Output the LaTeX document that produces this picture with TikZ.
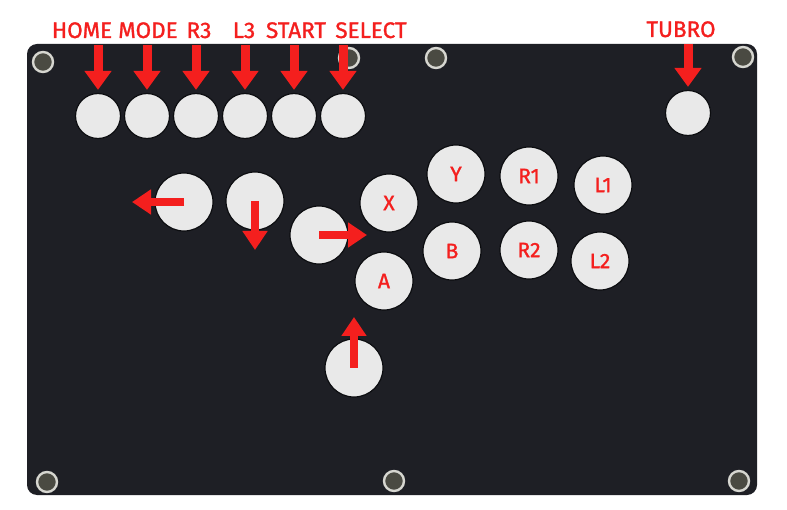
\documentclass[tikz,border=0pt]{standalone}
\usepackage{fontspec}
\setsansfont{Fira Sans}
\newfontfamily\padfont[FakeBold=1.2]{Fira Sans}
\usepackage{tikz}
\usetikzlibrary{arrows.meta,positioning}
\definecolor{PadInk}{HTML}{1E1F25}
\definecolor{PadRed}{HTML}{F41F1E}
\definecolor{PadKey}{HTML}{E9E9E9}
\definecolor{PadRim}{HTML}{0C0D10}
\definecolor{PadScrew}{HTML}{4A4A42}
\definecolor{PadSilver}{HTML}{D6D6D0}
\tikzset{
  padlabel/.style={font=\padfont\fontsize{22.5}{22.5}\selectfont, text=PadRed, inner sep=0pt, anchor=base},
  keybig/.style={circle, draw=PadRim, line width=1.2pt, fill=PadKey, minimum size=58pt, inner sep=0pt, font=\padfont\fontsize{21}{21}\selectfont, text=PadRed},
  keysmall/.style={keybig, minimum size=45pt},
  screwhead/.style={circle, draw=PadSilver, line width=2.4pt, fill=PadScrew, minimum size=20pt, inner sep=0pt},
  toparrow/.style={-{Triangle[length=19pt,width=26pt]}, line width=9pt, draw=PadRed, shorten <=7pt, shorten >=3pt},
  padarrow/.style={-{Triangle[length=19pt,width=24pt]}, line width=8pt, draw=PadRed}
}

\begin{document}
\begin{tikzpicture}[x=1pt, y=-1pt]
\useasboundingbox (0,0) rectangle (787,510);
\fill[white] (0,0) rectangle (787,510);
% board
\path[fill=PadInk, rounded corners=10pt] (27,44) rectangle (757,495);
\node[screwhead] (s1) at (43,62) {};
\node[screwhead] (s2) at (349,58) {};
\node[screwhead] (s3) at (436,58) {};
\node[screwhead] (s4) at (743,57) {};
\node[screwhead] (s5) at (47,482) {};
\node[screwhead] (s6) at (394,481) {};
\node[screwhead] (s7) at (739,481) {};
% top row
\node[keysmall] (bhome) at (98,116) {};
\node[keysmall] (bmode) at (147,116) {};
\node[keysmall] (br3) at (196,116) {};
\node[keysmall] (bl3) at (245,116) {};
\node[keysmall] (bstart) at (294,116) {};
\node[keysmall] (bselect) at (343,116) {};
\node[keysmall] (btubro) at (688,113) {};
\node[padlabel] (lhome) at (82,38) {HOME};
\node[padlabel] (lmode) at (148,38) {MODE};
\node[padlabel] (lr3) at (199,38) {R3};
\node[padlabel] (ll3) at (244,38) {L3};
\node[padlabel] (lstart) at (296,38) {START};
\node[padlabel] (lselect) at (371,38) {SELECT};
\node[padlabel] (ltubro) at (681,37) {TUBRO};
% stick buttons
\node[keybig] (bleft) at (184,202) {};
\node[keybig] (bdown) at (255,201) {};
\node[keybig] (bright) at (319,235) {};
\node[keybig] (bup) at (354,368) {};
% action buttons
\node[keybig] (bx) at (389,203) {X};
\node[keybig] (ba) at (384,281) {A};
\node[keybig] (by) at (456,174) {Y};
\node[keybig] (bb) at (452,251) {B};
\node[keybig] (br1) at (529,176) {R1};
\node[keybig] (br2) at (529,250) {R2};
\node[keybig] (bl1) at (603,185) {L1};
\node[keybig] (bl2) at (600,261) {L2};
% arrows
\draw[toparrow] (lhome.south -| bhome.north) -- (bhome.north);
\draw[toparrow] (lmode.south -| bmode.north) -- (bmode.north);
\draw[toparrow] (lr3.south -| br3.north) -- (br3.north);
\draw[toparrow] (ll3.south -| bl3.north) -- (bl3.north);
\draw[toparrow] (lstart.south -| bstart.north) -- (bstart.north);
\draw[toparrow] (lselect.south -| bselect.north) -- (bselect.north);
\draw[toparrow] (ltubro.south -| btubro.north) -- (btubro.north);
\coordinate (tleft) at (132,202);
\coordinate (tdown) at (255,250);
\coordinate (tright) at (367,235);
\coordinate (tup) at (354,317);
\draw[padarrow] (bleft.center) -- (tleft);
\draw[padarrow] (bdown.center) -- (tdown);
\draw[padarrow] (bright.center) -- (tright);
\draw[padarrow] (bup.center) -- (tup);
\end{tikzpicture}
\end{document}
